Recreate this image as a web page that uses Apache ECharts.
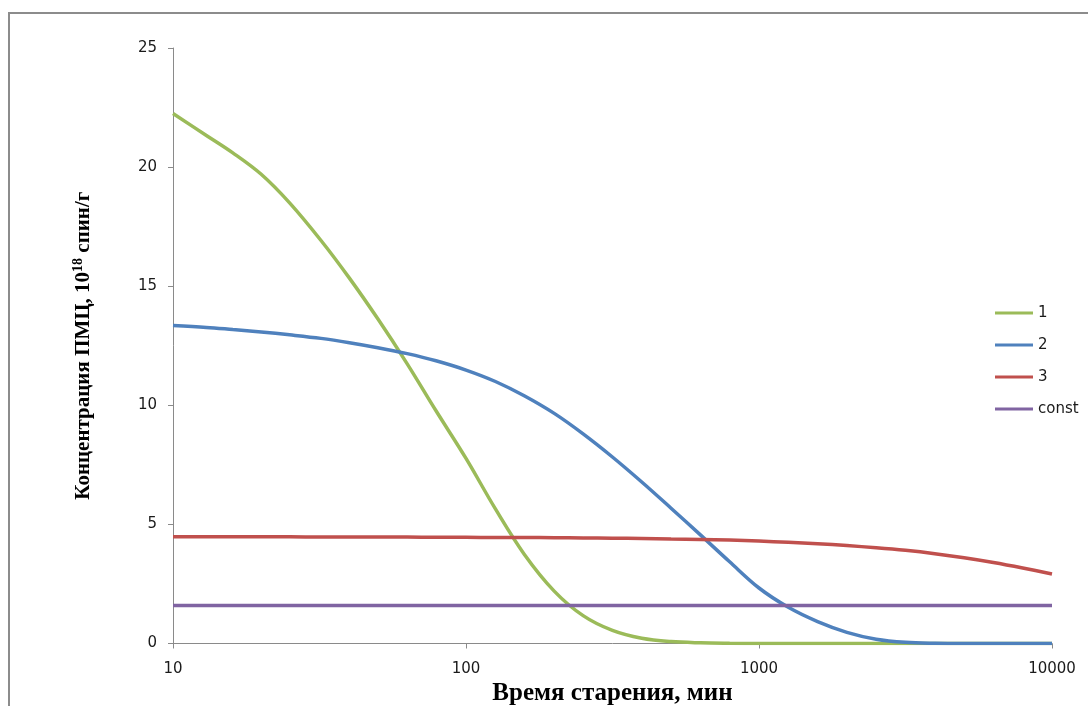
<!DOCTYPE html>
<html>
<head>
<meta charset="utf-8">
<script src="https://cdn.jsdelivr.net/npm/echarts@6/dist/echarts.min.js"></script>
<style>
  html, body { margin: 0; padding: 0; background: #ffffff; }
  #chart { width: 1088px; height: 706px; }
</style>
</head>
<body>
<div id="chart"></div>
<script>
// Aging time, min (log scale)
const times = [10, 13, 16, 20, 25, 32, 40, 50, 63, 79, 100, 126, 158, 200, 251, 316, 398, 501,
  631, 794, 1000, 1259, 1585, 1995, 2512, 3162, 3981, 5012, 6310, 7943, 10000];

// Paramagnetic centre concentration, 10^18 spin/g
const curve1 = [22.25, 21.33, 20.6, 19.7, 18.5, 16.92, 15.34, 13.63, 11.74, 9.77, 7.77, 5.65, 3.75, 2.2,
  1.17, 0.55, 0.22, 0.08, 0.03, 0.01, 0, 0, 0, 0, 0, 0, 0, 0, 0, 0, 0];
const curve2 = [13.35, 13.27, 13.18, 13.08, 12.96, 12.81, 12.63, 12.42, 12.17, 11.87, 11.48, 11.0, 10.4, 9.66,
  8.8, 7.83, 6.78, 5.68, 4.56, 3.43, 2.33, 1.52, 0.92, 0.47, 0.18, 0.05, 0.01, 0, 0, 0, 0];
const curve3 = [4.48, 4.48, 4.48, 4.48, 4.48, 4.47, 4.47, 4.47, 4.47, 4.46, 4.46, 4.45, 4.45, 4.44,
  4.43, 4.42, 4.41, 4.39, 4.37, 4.34, 4.3, 4.25, 4.19, 4.11, 4.02, 3.91, 3.77, 3.6, 3.4, 3.17, 2.92];
const constTimes = [10, 10000];
const constValues = [1.6, 1.6];

const seriesNames = ['1', '2', '3', 'const'];
const seriesColors = ['#9BBB59', '#4F81BD', '#C0504D', '#8064A2'];

const xTicks = [10, 100, 1000, 10000];
const yTicks = [0, 5, 10, 15, 20, 25];

function pairs(xs, ys) {
  return xs.map((x, i) => [x, ys[i]]);
}

const seriesData = [
  pairs(times, curve1),
  pairs(times, curve2),
  pairs(times, curve3),
  pairs(constTimes, constValues)
];

const chart = echarts.init(document.getElementById('chart'), null, { renderer: 'canvas' });

const axisGray = '#8a8a8a';
const labelFont = 'DejaVu Sans';

chart.setOption({
  backgroundColor: '#ffffff',
  animation: false,
  graphic: [{
    type: 'rect',
    shape: { x: 9, y: 13, width: 1200, height: 1200 },
    style: { fill: 'none', stroke: '#8c8c8c', lineWidth: 2 },
    silent: true,
    z: -1
  }],
  grid: { left: 173, right: 36, top: 48, bottom: 62.5, containLabel: false, outerBoundsMode: 'none' },
  legend: {
    orient: 'vertical',
    left: 990,
    top: 299,
    icon: 'rect',
    itemWidth: 38,
    itemHeight: 3,
    itemGap: 14,
    textStyle: { fontFamily: labelFont, fontSize: 15, color: '#1a1a1a', lineHeight: 18 },
    data: seriesNames
  },
  xAxis: {
    type: 'log',
    logBase: 10,
    min: xTicks[0],
    max: xTicks[xTicks.length - 1],
    name: 'Время старения, мин',
    nameLocation: 'middle',
    nameGap: 37,
    nameTextStyle: {
      fontFamily: 'Liberation Serif', fontWeight: 'bold', fontSize: 25, color: '#000000'
    },
    axisLine: { show: true, onZero: false, lineStyle: { color: axisGray, width: 1 } },
    axisTick: { show: true, inside: false, length: 5, lineStyle: { color: axisGray } },
    minorTick: { show: false },
    splitLine: { show: false },
    axisLabel: {
      margin: 18,
      fontFamily: labelFont, fontSize: 15, color: '#1a1a1a',
      formatter: v => (xTicks.includes(Math.round(v)) ? String(Math.round(v)) : '')
    }
  },
  yAxis: {
    type: 'value',
    min: yTicks[0],
    max: yTicks[yTicks.length - 1],
    interval: 5,
    name: '{a|Концентрация ПМЦ, 10}{s|18}{a| спин/г}',
    nameLocation: 'middle',
    nameGap: 76,
    nameRotate: 90,
    nameTextStyle: {
      rich: {
        a: { fontFamily: 'Liberation Serif', fontWeight: 'bold', fontSize: 21, color: '#000000', lineHeight: 26 },
        s: { fontFamily: 'Liberation Serif', fontWeight: 'bold', fontSize: 14, color: '#000000', lineHeight: 26, verticalAlign: 'top', padding: [0, 0, 10, 0] }
      }
    },
    axisLine: { show: true, lineStyle: { color: axisGray, width: 1 } },
    axisTick: { show: true, inside: false, length: 5, lineStyle: { color: axisGray } },
    splitLine: { show: false },
    axisLabel: {
      margin: 16,
      fontFamily: labelFont, fontSize: 15, color: '#1a1a1a'
    }
  },
  series: seriesNames.map((name, i) => ({
    name: name,
    type: 'line',
    data: seriesData[i],
    smooth: 0.35,
    symbol: 'none',
    showSymbol: false,
    lineStyle: { color: seriesColors[i], width: 3.5 },
    itemStyle: { color: seriesColors[i] },
    z: 2 + i
  }))
});
</script>
</body>
</html>
